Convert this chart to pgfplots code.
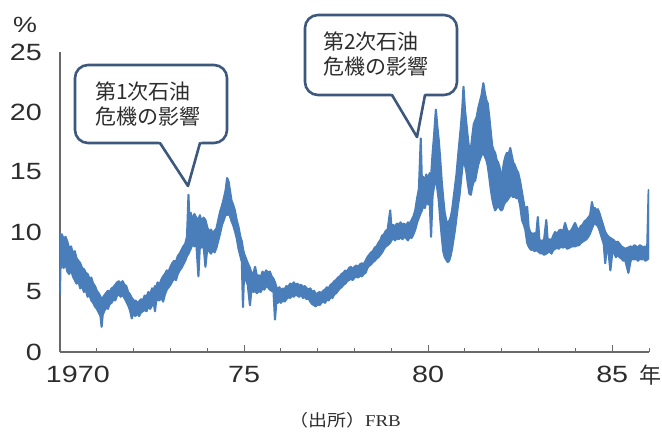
\documentclass[border=0pt]{standalone}
\usepackage{pgfplots}
\pgfplotsset{compat=1.18}
\usepackage{pgfplotstable}
\usepgfplotslibrary{fillbetween}
\usepackage{fontspec}
\setmainfont{Liberation Sans}
\newfontfamily\tickfont[FakeStretch=1.22]{Liberation Sans}
\newfontfamily\jpfont{Noto Sans CJK JP}
\newfontfamily\srcjp[FakeStretch=1.15]{Noto Sans CJK JP}
\newfontfamily\srcfont[FakeStretch=1.15]{Liberation Serif}

\definecolor{ratecol}{RGB}{74,126,187}
\definecolor{axisgray}{RGB}{105,105,105}
\definecolor{labelgray}{RGB}{45,45,45}
\definecolor{callout}{RGB}{60,88,124}

% Federal funds rate: daily high and low of the band (year, %)
\pgfplotstableread{
t hi lo
1970.00 9.9 4.8
1970.01 9.7 6.9
1970.05 9.8 7.3
1970.10 9.4 7.0
1970.15 9.6 7.4
1970.20 9.2 6.7
1970.25 8.6 6.5
1970.30 8.8 6.9
1970.35 8.2 6.3
1970.40 8.4 6.0
1970.45 7.8 5.7
1970.50 7.6 5.9
1970.55 7.4 5.3
1970.60 7.0 5.5
1970.65 6.9 5.0
1970.70 6.6 5.2
1970.75 6.5 4.6
1970.80 6.1 4.8
1970.85 6.2 4.3
1970.90 5.7 4.1
1970.95 5.5 3.8
1971.00 5.1 3.6
1971.05 4.9 3.3
1971.10 4.6 3.0
1971.13 4.4 2.1
1971.16 4.5 3.1
1971.20 4.7 3.4
1971.25 4.9 3.7
1971.30 5.1 3.6
1971.35 5.0 4.0
1971.40 5.3 4.1
1971.45 5.4 4.4
1971.50 5.6 4.3
1971.55 5.8 4.7
1971.60 5.9 4.8
1971.65 5.7 4.6
1971.70 5.9 4.8
1971.75 5.6 4.5
1971.80 5.5 4.2
1971.85 5.0 3.9
1971.90 4.8 3.5
1971.95 4.5 2.8
1971.98 4.4 3.2
1972.00 4.2 3.1
1972.05 4.3 3.0
1972.10 4.1 3.2
1972.15 4.2 3.0
1972.20 4.4 3.3
1972.25 4.3 3.4
1972.30 4.7 3.5
1972.35 4.6 3.4
1972.40 5.0 3.8
1972.45 4.8 3.6
1972.50 5.3 3.9
1972.55 5.2 4.0
1972.58 5.5 3.4
1972.61 5.3 4.2
1972.65 5.8 4.4
1972.70 5.6 4.3
1972.75 6.0 4.6
1972.80 6.3 4.2
1972.85 6.5 4.8
1972.90 6.8 5.2
1972.95 6.7 5.4
1973.00 7.1 5.6
1973.05 7.4 5.9
1973.10 7.6 6.1
1973.15 7.5 6.0
1973.20 8.0 6.5
1973.25 8.2 6.8
1973.30 8.5 7.0
1973.35 8.8 7.3
1973.40 9.0 7.6
1973.45 9.6 8.0
1973.49 13.1 8.2
1973.52 10.6 8.4
1973.55 11.6 8.6
1973.60 11.0 9.0
1973.65 11.5 8.8
1973.70 11.2 9.2
1973.76 11.0 6.3
1973.80 11.4 8.9
1973.85 10.8 8.7
1973.90 11.2 8.9
1973.95 11.0 7.1
1974.00 10.4 8.6
1974.05 10.0 8.4
1974.10 10.2 8.2
1974.15 9.9 8.5
1974.20 10.1 8.3
1974.25 10.3 8.7
1974.30 11.0 9.3
1974.35 11.7 9.9
1974.40 12.2 10.6
1974.45 12.8 11.0
1974.50 13.5 11.5
1974.54 14.5 11.4
1974.58 14.2 11.6
1974.62 13.4 11.3
1974.66 12.6 10.9
1974.70 12.3 10.6
1974.75 11.8 10.1
1974.80 11.0 9.5
1974.85 10.4 8.6
1974.90 9.6 8.0
1974.94 9.2 7.5
1974.97 8.6 3.75
1975.00 8.2 6.5
1975.05 7.8 6.0
1975.10 7.4 5.6
1975.16 7.0 3.9
1975.20 6.6 5.2
1975.25 6.5 5.0
1975.30 7.1 5.1
1975.35 6.3 4.9
1975.40 6.4 5.1
1975.45 6.2 5.0
1975.50 6.7 5.3
1975.55 6.5 5.2
1975.60 6.8 5.5
1975.65 6.6 5.4
1975.70 6.7 5.2
1975.75 6.3 5.1
1975.80 6.1 5.0
1975.84 5.8 2.7
1975.88 5.4 4.3
1975.92 5.2 4.1
1975.96 5.4 4.3
1976.00 5.1 4.1
1976.05 5.3 4.3
1976.10 5.2 4.2
1976.15 5.5 4.4
1976.20 5.4 4.6
1976.25 5.7 4.5
1976.30 5.6 4.7
1976.35 5.8 4.6
1976.40 5.6 4.8
1976.45 5.7 4.7
1976.50 5.5 4.6
1976.55 5.6 4.8
1976.60 5.4 4.5
1976.65 5.5 4.6
1976.70 5.3 4.4
1976.75 5.2 4.5
1976.80 5.3 4.2
1976.85 5.0 4.0
1976.90 5.1 3.9
1976.95 4.8 3.8
1977.00 4.9 4.0
1977.05 5.0 3.9
1977.10 4.9 4.1
1977.15 5.1 4.2
1977.20 5.2 4.1
1977.25 5.4 4.4
1977.30 5.3 4.3
1977.35 5.6 4.6
1977.40 5.7 4.5
1977.45 5.9 4.8
1977.50 6.0 4.9
1977.55 6.2 5.1
1977.60 6.3 5.3
1977.65 6.5 5.4
1977.70 6.6 5.6
1977.75 6.8 5.7
1977.80 6.7 5.9
1977.85 7.0 6.0
1977.90 7.1 6.1
1977.95 6.9 6.0
1978.00 7.1 6.2
1978.05 7.2 6.3
1978.10 7.1 6.2
1978.15 7.3 6.4
1978.20 7.4 6.3
1978.25 7.3 6.5
1978.30 7.6 6.6
1978.35 7.9 7.0
1978.40 8.1 7.2
1978.45 8.3 7.3
1978.50 8.4 7.5
1978.55 8.7 7.6
1978.60 8.8 7.8
1978.65 9.1 7.9
1978.70 9.3 8.1
1978.75 9.7 8.3
1978.80 9.8 8.6
1978.85 10.1 8.8
1978.90 10.2 8.9
1978.97 11.8 9.1
1979.00 10.5 9.3
1979.05 10.6 9.5
1979.10 10.4 9.3
1979.15 10.7 9.5
1979.20 10.6 9.4
1979.25 10.8 9.6
1979.30 10.6 9.4
1979.35 10.7 9.6
1979.40 10.5 9.5
1979.45 10.8 9.3
1979.50 10.7 9.6
1979.55 11.0 9.5
1979.60 11.3 9.8
1979.65 11.8 10.2
1979.70 12.8 10.8
1979.75 13.6 11.2
1979.80 17.8 11.6
1979.83 14.2 11.8
1979.87 14.6 12.2
1979.91 14.0 12.0
1979.95 14.8 12.5
1980.00 14.4 12.3
1980.04 14.9 12.8
1980.08 14.6 9.6
1980.12 16.5 13.0
1980.16 18.0 13.8
1980.21 20.2 14.5
1980.25 18.8 13.6
1980.29 17.6 12.6
1980.33 16.0 11.0
1980.37 14.2 9.6
1980.41 12.8 8.4
1980.45 11.6 7.9
1980.49 11.0 7.7
1980.53 10.6 7.5
1980.57 10.9 7.6
1980.61 11.2 8.0
1980.65 11.8 8.6
1980.69 12.8 9.4
1980.73 13.8 10.2
1980.77 14.8 11.2
1980.81 16.2 12.2
1980.85 17.5 13.0
1980.89 18.8 14.2
1980.93 20.4 15.4
1980.96 22.1 16.0
1981.00 20.2 15.6
1981.04 19.0 15.0
1981.08 17.8 14.0
1981.12 16.8 13.2
1981.16 16.9 13.1
1981.20 18.0 13.8
1981.24 19.0 14.2
1981.28 19.3 14.3
1981.32 19.6 15.0
1981.36 20.3 15.6
1981.40 20.8 16.0
1981.45 21.4 16.4
1981.50 22.4 16.6
1981.54 21.6 16.3
1981.58 21.0 16.0
1981.62 20.7 15.5
1981.66 19.6 14.6
1981.70 18.4 13.6
1981.74 17.2 12.8
1981.78 16.8 12.2
1981.82 16.6 11.8
1981.86 16.0 12.0
1981.90 15.8 12.2
1981.94 15.4 12.0
1981.98 14.6 11.8
1982.02 15.0 11.9
1982.06 15.8 12.3
1982.10 16.3 12.5
1982.14 16.6 12.6
1982.18 16.4 12.8
1982.23 17.0 13.0
1982.27 16.4 13.1
1982.31 15.8 12.9
1982.35 15.6 13.0
1982.40 15.2 12.8
1982.45 14.9 12.9
1982.50 14.2 12.2
1982.55 13.3 11.0
1982.60 12.4 10.6
1982.64 11.8 10.2
1982.69 12.1 9.1
1982.73 10.4 8.8
1982.77 10.0 8.6
1982.81 9.9 8.5
1982.85 9.8 8.6
1982.89 9.9 8.4
1982.93 9.6 8.5
1982.98 11.25 8.4
1983.02 9.4 8.3
1983.06 9.2 8.2
1983.10 9.3 8.3
1983.14 9.1 8.1
1983.21 11.0 8.2
1983.25 9.2 8.3
1983.30 9.4 8.4
1983.35 9.3 8.2
1983.40 9.7 8.5
1983.45 10.0 8.6
1983.50 9.8 8.7
1983.55 10.1 8.6
1983.60 10.2 8.8
1983.66 10.0 8.7
1983.72 10.75 8.8
1983.78 10.1 8.6
1983.84 10.0 8.7
1983.90 10.2 8.8
1983.99 10.75 8.8
1984.05 10.3 8.9
1984.10 10.2 8.9
1984.15 10.5 9.1
1984.20 10.6 9.2
1984.25 10.9 9.3
1984.30 11.0 9.4
1984.35 11.2 9.6
1984.40 11.4 9.9
1984.45 12.5 10.3
1984.49 11.9 10.6
1984.53 12.0 10.8
1984.57 11.8 10.6
1984.61 11.9 10.5
1984.65 11.6 10.2
1984.69 11.2 9.8
1984.73 10.8 9.4
1984.77 10.4 9.0
1984.81 10.0 7.4
1984.85 9.8 8.6
1984.90 9.6 8.3
1984.95 9.5 6.8
1985.00 9.4 8.2
1985.05 9.3 8.3
1985.10 9.1 7.9
1985.15 9.2 8.1
1985.20 9.0 7.9
1985.25 8.8 7.8
1985.30 8.7 7.6
1985.35 8.6 7.7
1985.44 8.7 6.6
1985.50 8.8 7.6
1985.55 8.7 7.8
1985.60 8.9 7.7
1985.65 8.8 7.8
1985.70 8.7 7.6
1985.75 8.9 7.8
1985.80 8.8 7.7
1985.85 8.7 7.8
1985.90 8.8 7.6
1985.95 8.6 7.7
1985.99 13.5 7.8
1986.00 8.7 7.9
}\ratetable

\begin{document}
\begin{tikzpicture}[x=1bp,y=1bp]
\begin{axis}[
  scale only axis, width=589bp, height=300bp,
  xmin=1970, xmax=1986, ymin=0, ymax=25,
  axis x line*=bottom, axis y line*=left,
  axis line style={draw=axisgray, line width=1.3bp},
  xtick={1970,1975,1980,1985},
  xticklabels={{\rlap{\hskip-14bp 1970}},75,80,85},
  minor xtick={1971,1972,1973,1974,1976,1977,1978,1979,1981,1982,1983,1984,1986},
  tick align=inside,
  major tick length=7bp, minor tick length=4.5bp,
  x tick style={draw=axisgray, line width=1bp},
  ytick={0,5,10,15,20,25},
  yticklabels={0,5,10,15,20,25},
  y tick style={draw=none},
  tick label style={font=\tickfont\fontsize{23.5bp}{28bp}\selectfont, text=labelgray, inner sep=0pt},
  yticklabel style={anchor=east, xshift=-18bp},
  xticklabel style={anchor=north, yshift=-14bp},
]
\addplot[name path=hi, draw=ratecol, line width=2.1bp, line join=round] table[x=t, y=hi] {\ratetable};
\addplot[name path=lo, draw=ratecol, line width=2.1bp, line join=round] table[x=t, y=lo] {\ratetable};
\addplot[fill=ratecol, draw=ratecol, line width=0.8bp, line join=round] fill between[of=hi and lo];
\end{axis}

% axis unit and year marks
\node[font=\tickfont\fontsize{22bp}{26bp}\selectfont, text=labelgray] at (-35,327) {\%};
\node[anchor=north, font=\jpfont\fontsize{22bp}{26bp}\selectfont, text=labelgray, inner sep=0pt] at (590,-13) {年};
\node[font=\fontsize{16.5bp}{20bp}\selectfont, text=labelgray] at (285,-68) {\srcjp （出所）\srcfont FRB};

% callout: first oil crisis
\draw[callout, line width=2.6bp, fill=white, rounded corners=13bp] (15,209) rectangle (167,287);
\fill[white] (98.4,211.5) -- (128,166) -- (141.7,211.5) -- cycle;
\draw[callout, line width=2.6bp, line join=round, line cap=round] (100,209) -- (128,166) -- (140,209);
\node[anchor=west, inner sep=0pt, font=\jpfont\fontsize{21bp}{25bp}\selectfont, text=labelgray] at (35,261) {第1次石油};
\node[anchor=west, inner sep=0pt, font=\jpfont\fontsize{21bp}{25bp}\selectfont, text=labelgray] at (35,235) {危機の影響};

% callout: second oil crisis
\draw[callout, line width=2.6bp, fill=white, rounded corners=13bp] (245,257) rectangle (397,337);
\fill[white] (330.6,259.5) -- (357,215) -- (365.6,259.5) -- cycle;
\draw[callout, line width=2.6bp, line join=round, line cap=round] (332,257) -- (357,215) -- (365,257);
\node[anchor=west, inner sep=0pt, font=\jpfont\fontsize{21bp}{25bp}\selectfont, text=labelgray] at (263,311) {第2次石油};
\node[anchor=west, inner sep=0pt, font=\jpfont\fontsize{21bp}{25bp}\selectfont, text=labelgray] at (263,285) {危機の影響};

% page frame
\pgfresetboundingbox
\path[use as bounding box] (-60,-80) rectangle (602,352);
\end{tikzpicture}
\end{document}
